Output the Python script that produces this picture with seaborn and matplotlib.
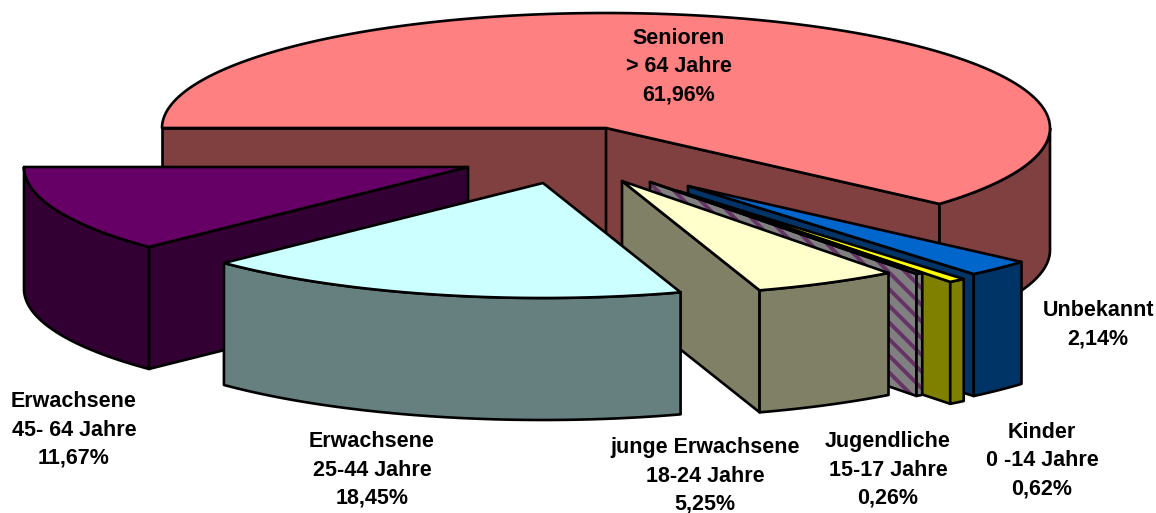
import numpy as np
import pandas as pd
import seaborn as sns
import matplotlib.pyplot as plt
from matplotlib.colors import to_rgb

sns.set_style("white")
plt.rcParams['font.family'] = ['Liberation Sans', 'DejaVu Sans']
plt.rcParams['hatch.linewidth'] = 2.8

# values, clockwise from the left edge of the big slice
labels = ["Senioren\n> 64 Jahre\n61,96%", "Unbekannt\n2,14%", "Kinder\n0 -14 Jahre\n0,62%",
          "Jugendliche\n15-17 Jahre\n0,26%", "junge Erwachsene\n18-24 Jahre\n5,25%",
          "Erwachsene\n25-44 Jahre\n18,45%", "Erwachsene\n45- 64 Jahre\n11,67%"]
shares = [61.96, 2.14, 0.62, 0.26, 5.25, 18.45, 11.67]
colors = ["#FF8080", "#0066CC", "#FFFF00", "#808080", "#FFFFCC", "#CCFFFF", "#660066"]

# layout of the 3d pie (pixels of the output picture)
explode_x = [0, 82, 72, 44, 16, -63, -138]
explode_y = [0, 58, 63, 54, 53, 55, 39]
label_x = [679, 1098, 1042, 888, 705, 372, 74]
label_y = [67, 325, 461, 470, 476, 470, 430]
draw_order = [0, 6, 1, 2, 3, 4, 5]

cx, cy = 606, 128
rx, ry = 444, 115
depth = 122
start = 180
line_w = 1.9
stripe = "#663366"
# the original has some perspective, edges sit a bit off the true angle
warp_at = [-180, -138, -72, -50, -42, 0, 180]
warp_by = [0, 2.2, 0, 0, 1, 0, 0]

df = pd.DataFrame({"label": labels, "share": shares, "color": colors,
                   "dx": explode_x, "dy": explode_y})
sweep = df["share"] / df["share"].sum() * 360
df["a0"] = start - sweep.cumsum().shift(fill_value=0)  # ccw edge
df["a1"] = start - sweep.cumsum()                       # cw edge
df["a0"] += np.interp(df["a0"], warp_at, warp_by)
df["a1"] += np.interp(df["a1"], warp_at, warp_by)


def rim(a0, a1, x0, y0):
    t = np.radians(np.linspace(a0, a1, 200))
    return x0 + rx * np.cos(t), y0 - ry * np.sin(t)


def face(ax, xs, ys, color, striped=False):
    if striped:
        ax.fill(xs, ys, facecolor=color, edgecolor=stripe, hatch="\\\\", lw=0)
        ax.fill(xs, ys, facecolor="none", edgecolor="black", lw=line_w, joinstyle="round")
    else:
        ax.fill(xs, ys, facecolor=color, edgecolor="black", lw=line_w, joinstyle="round")


fig, ax = plt.subplots(figsize=(11.56, 5.13), dpi=100)
fig.subplots_adjust(0, 0, 1, 1)
ax.set_xlim(0, 1156)
ax.set_ylim(513, 0)
ax.axis("off")

for i in draw_order:
    row = df.iloc[i]
    x0, y0 = cx + row.dx, cy + row.dy
    col = to_rgb(row.color)
    dark = tuple(c * 0.5 for c in col)
    striped = i == 3
    if striped:
        dark = col

    # flat walls, only those turned towards the viewer
    for ang, side in ((row.a0, 1), (row.a1, -1)):
        ca, sa = np.cos(np.radians(ang)), np.sin(np.radians(ang))
        if side * ca > 0:
            continue
        xe, ye = x0 + rx * ca, y0 - ry * sa
        face(ax, [x0, xe, xe, x0], [y0, ye, ye + depth, y0 + depth], dark, striped)

    # curved wall, front half only
    lo = max(row.a1, -180)
    hi = min(row.a0, 0)
    if hi > lo:
        xs, ys = rim(hi, lo, x0, y0)
        face(ax, np.r_[xs, xs[::-1]], np.r_[ys, ys[::-1] + depth], dark, striped)

    # top
    xs, ys = rim(row.a0, row.a1, x0, y0)
    face(ax, np.r_[x0, xs], np.r_[y0, ys], col, striped)

for txt, x, y in zip(labels, label_x, label_y):
    ax.text(x, y, txt, ha="center", va="center", fontsize=15.5, fontweight="bold",
            linespacing=1.45, color="black")

sns.despine(ax=ax, left=True, bottom=True)
fig.savefig("out.png", dpi=100)
